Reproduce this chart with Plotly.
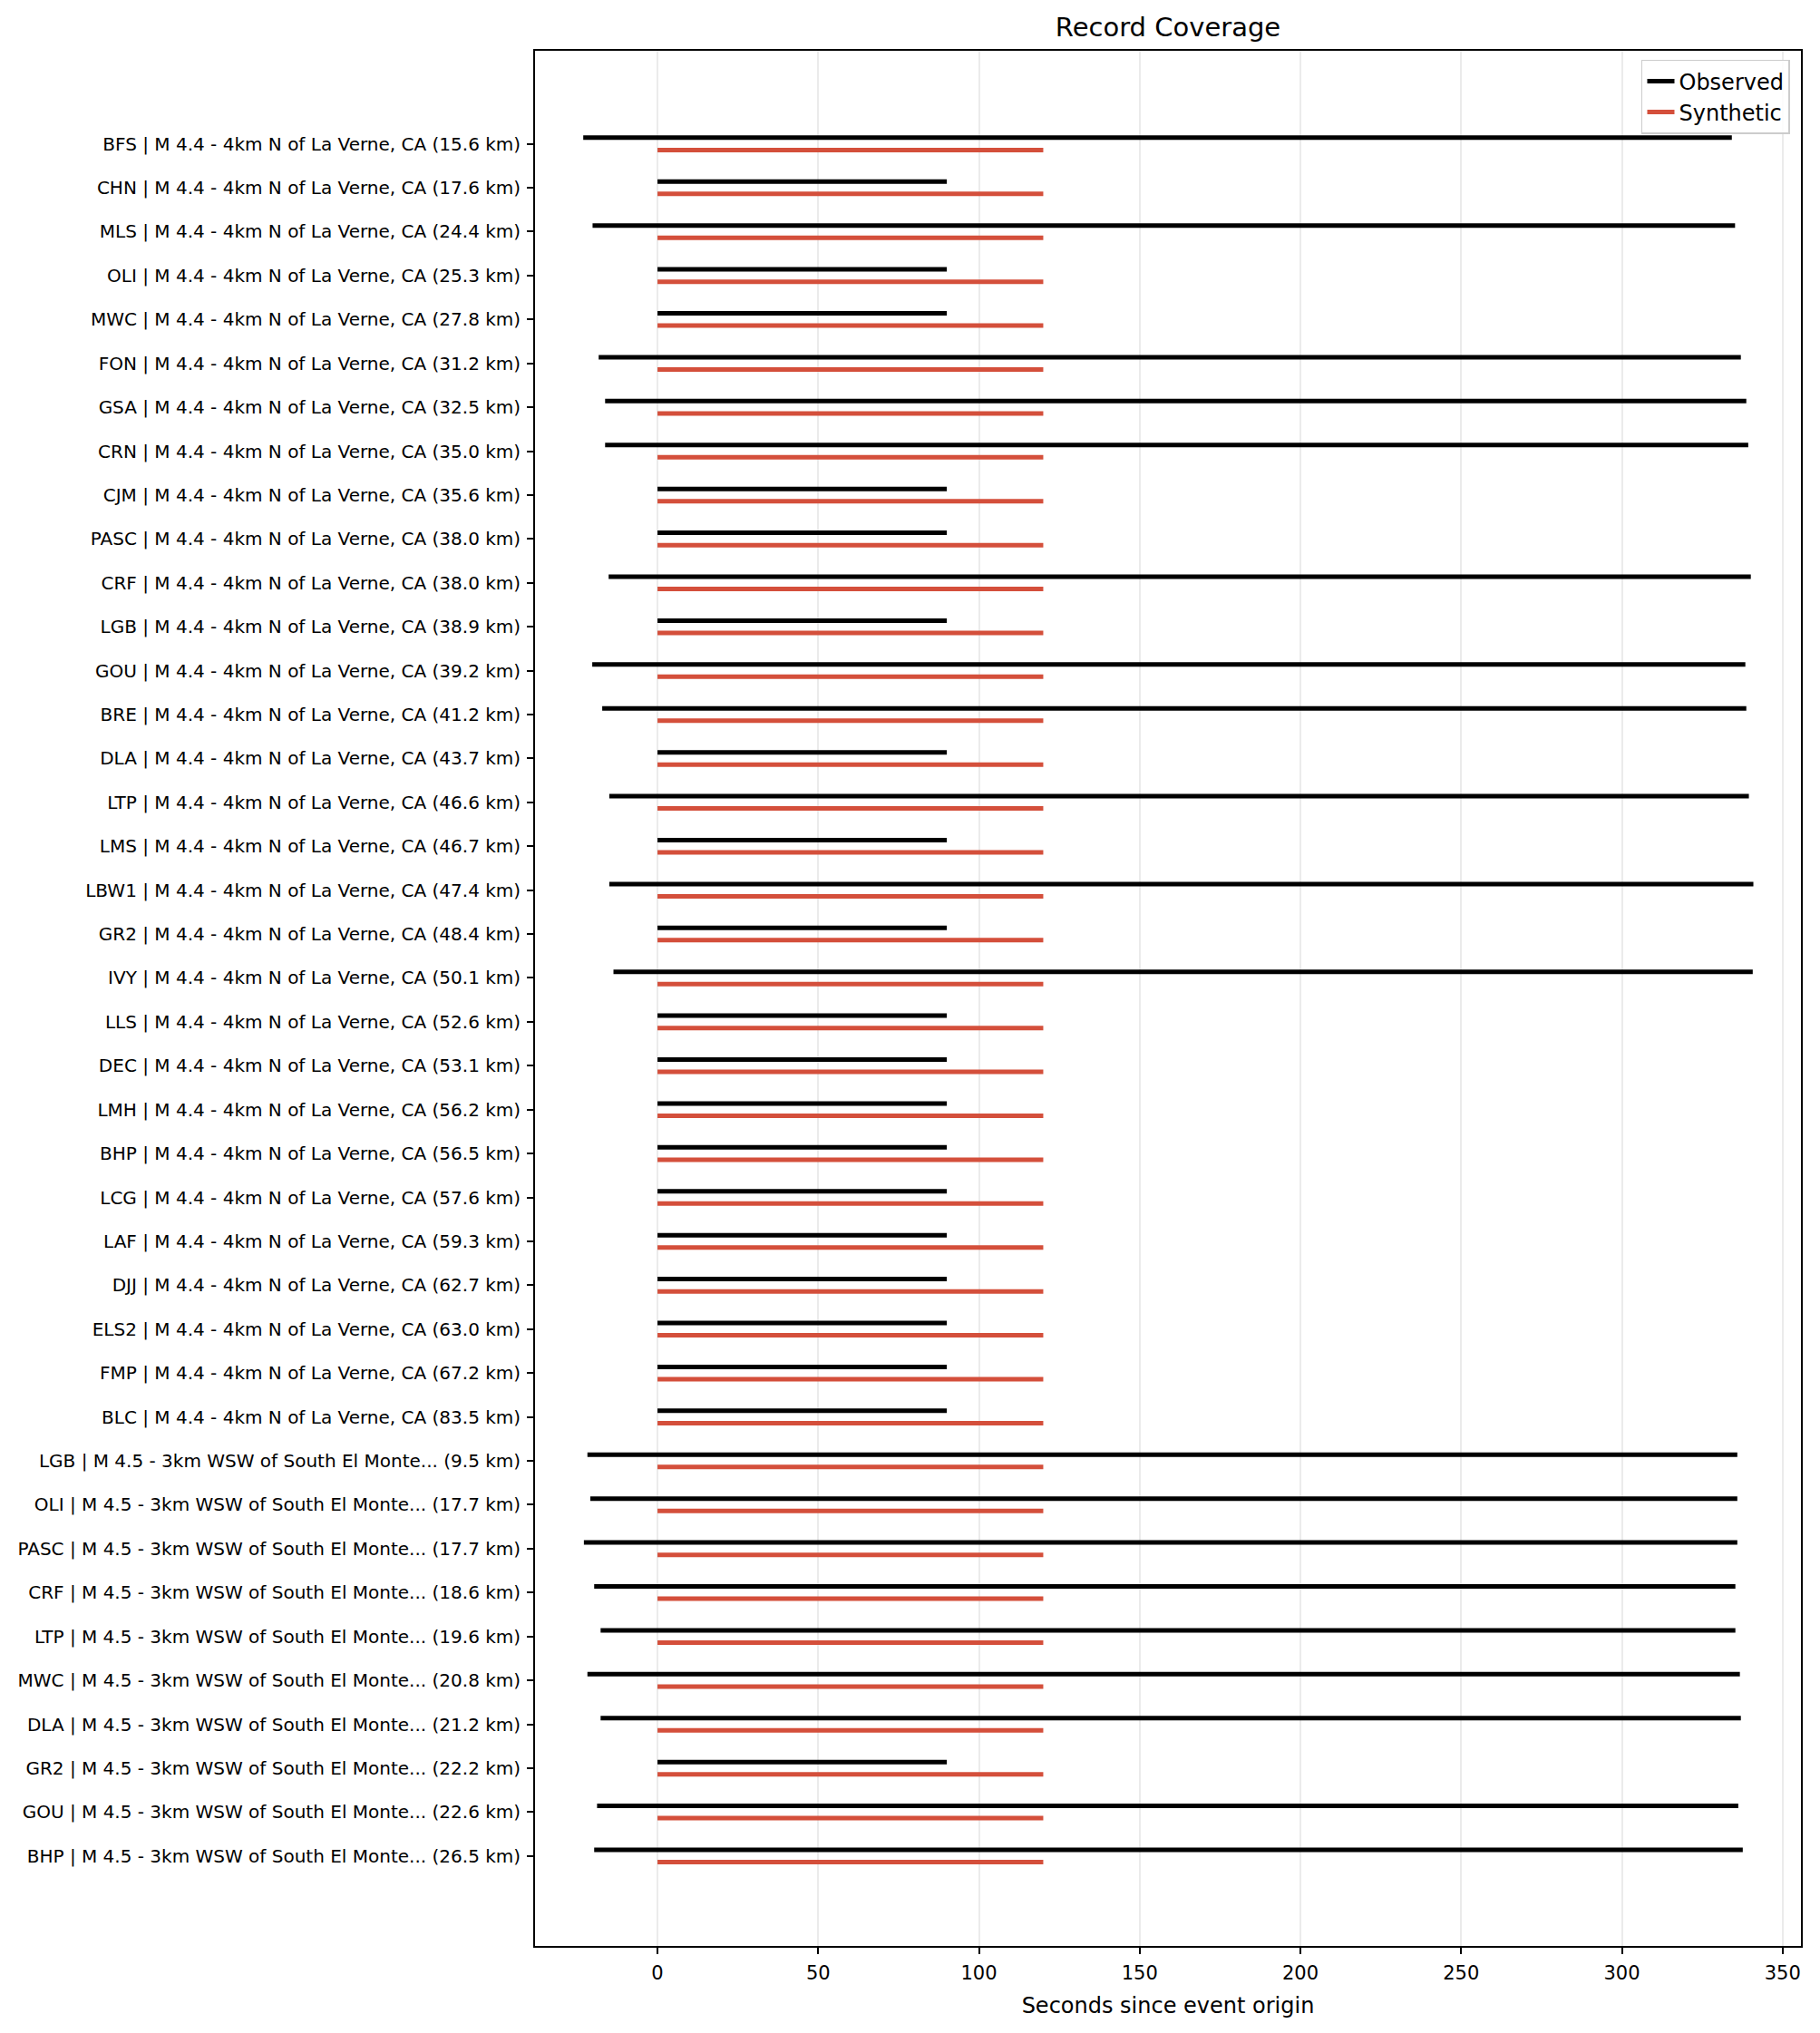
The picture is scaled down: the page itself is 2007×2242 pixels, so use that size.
import plotly.graph_objects as go

stations = ["BFS", "CHN", "MLS", "OLI", "MWC", "FON", "GSA", "CRN", "CJM", "PASC",
            "CRF", "LGB", "GOU", "BRE", "DLA", "LTP", "LMS", "LBW1", "GR2", "IVY",
            "LLS", "DEC", "LMH", "BHP", "LCG", "LAF", "DJJ", "ELS2", "FMP", "BLC",
            "LGB", "OLI", "PASC", "CRF", "LTP", "MWC", "DLA", "GR2", "GOU", "BHP"]
events = ["M 4.4 - 4km N of La Verne, CA"] * 30 + ["M 4.5 - 3km WSW of South El Monte..."] * 10
distances_km = [15.6, 17.6, 24.4, 25.3, 27.8, 31.2, 32.5, 35.0, 35.6, 38.0,
                38.0, 38.9, 39.2, 41.2, 43.7, 46.6, 46.7, 47.4, 48.4, 50.1,
                52.6, 53.1, 56.2, 56.5, 57.6, 59.3, 62.7, 63.0, 67.2, 83.5,
                9.5, 17.7, 17.7, 18.6, 19.6, 20.8, 21.2, 22.2, 22.6, 26.5]

obs_start = [-23.1, 0, -20.2, 0, 0, -18.3, -16.3, -16.3, 0, 0,
             -15.2, 0, -20.3, -17.2, 0, -15.0, 0, -15.0, 0, -13.7,
             0, 0, 0, 0, 0, 0, 0, 0, 0, 0,
             -21.8, -20.9, -22.9, -19.7, -17.7, -21.8, -17.7, 0, -18.8, -19.7]
obs_end = [334.2, 90, 335.2, 90, 90, 337.0, 338.7, 339.3, 90, 90,
           340.1, 90, 338.4, 338.7, 90, 339.5, 90, 340.9, 90, 340.7,
           90, 90, 90, 90, 90, 90, 90, 90, 90, 90,
           335.9, 335.9, 335.9, 335.3, 335.3, 336.7, 337.0, 90, 336.2, 337.6]
syn_start = [0] * 40
syn_end = [120] * 40

x_ticks = [0, 50, 100, 150, 200, 250, 300, 350]

labels = [f"{s} | {e} ({d:.1f} km)" for s, e, d in zip(stations, events, distances_km)]
OFF = 0.14

ox, oy, sx, sy = [], [], [], []
for i in range(len(stations)):
    ox += [obs_start[i], obs_end[i], None]
    oy += [i - OFF, i - OFF, None]
    sx += [syn_start[i], syn_end[i], None]
    sy += [i + OFF, i + OFF, None]

fig = go.Figure()
fig.add_trace(go.Scatter(x=ox, y=oy, mode="lines", name="Observed",
                         line=dict(color="#000000", width=5), connectgaps=False))
fig.add_trace(go.Scatter(x=sx, y=sy, mode="lines", name="Synthetic",
                         line=dict(color="#d44f3b", width=5), connectgaps=False))

FONT = "DejaVu Sans"
fig.update_layout(
    width=2007, height=2242,
    margin=dict(l=590, r=21, t=56, b=96),
    plot_bgcolor="white", paper_bgcolor="white",
    font=dict(family=FONT, color="black"),
    title=dict(text="Record Coverage", x=0.5, xref="paper", xanchor="center",
               y=1 - 30 / 2242, yref="container", yanchor="middle",
               font=dict(family=FONT, size=29, color="black")),
    legend=dict(x=0.9914, y=0.9953, xanchor="right", yanchor="top",
                bgcolor="rgba(255,255,255,0.85)", bordercolor="#cccccc", borderwidth=1.5,
                font=dict(family=FONT, size=24, color="black"), tracegroupgap=4),
    showlegend=True,
)
fig.update_xaxes(range=[-38.1, 355.7], tickvals=x_ticks, ticktext=[str(v) for v in x_ticks],
                 showgrid=True, gridcolor="#ebebeb", gridwidth=1.5, zeroline=False,
                 showline=True, mirror=True, linecolor="black", linewidth=1.8,
                 ticks="outside", ticklen=7, tickwidth=1.6, tickcolor="black",
                 tickfont=dict(family=FONT, size=21, color="black"), ticklabelstandoff=3,
                 title=dict(text="Seconds since event origin", standoff=16,
                            font=dict(family=FONT, size=24, color="black")))
fig.update_yaxes(range=[41.05, -2.12], tickvals=list(range(len(labels))), ticktext=labels,
                 showgrid=False, zeroline=False,
                 showline=True, mirror=True, linecolor="black", linewidth=1.8,
                 ticks="outside", ticklen=7, tickwidth=1.6, tickcolor="black",
                 tickfont=dict(family=FONT, size=20, color="black"), ticklabelstandoff=3)

fig.write_html("out.html")
